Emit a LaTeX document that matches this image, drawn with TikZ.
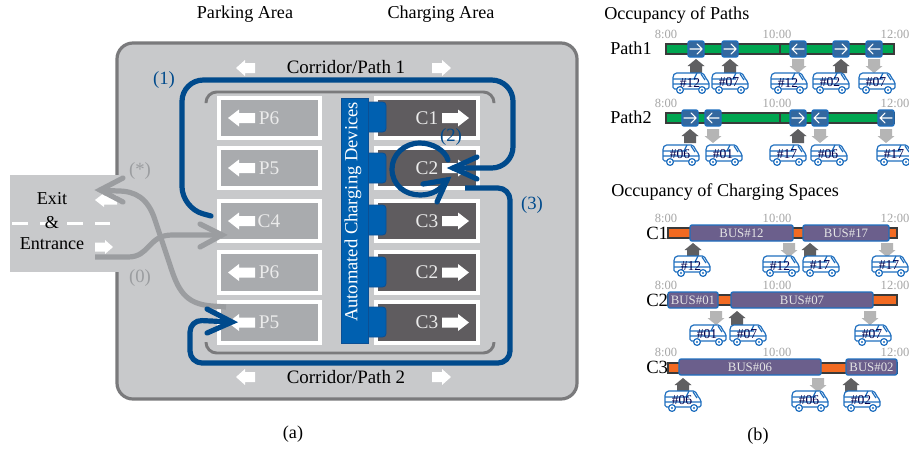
\documentclass[tikz,border=0pt]{standalone}
\usepackage{fontspec}
\setmainfont{Liberation Serif}
\definecolor{parkbg}{HTML}{C8C9CB}
\definecolor{edgegray}{HTML}{7A7A7C}
\definecolor{pfill}{HTML}{A9ABAE}
\definecolor{cfill}{HTML}{5F5C5F}
\definecolor{devblue}{HTML}{0060B0}
\definecolor{devedge}{HTML}{0B4F94}
\definecolor{routeblue}{HTML}{004A8C}
\definecolor{routegray}{HTML}{9B9DA0}
\definecolor{timegray}{HTML}{A5A5A5}
\definecolor{busblue}{HTML}{1F6FBF}
\definecolor{badge}{HTML}{33689F}
\definecolor{slot}{HTML}{6B5F8C}
\definecolor{greenbar}{HTML}{00A651}
\definecolor{orangebar}{HTML}{F26A21}
\definecolor{barline}{HTML}{3A3A3A}
\definecolor{arrdark}{HTML}{5F5F61}
\definecolor{arrlight}{HTML}{B5B5B5}
\tikzset{
  px/.style={font=\fontsize{#1}{#1}\selectfont},
  lbl/.style={px=13.6,text=black,inner sep=0pt},
  time/.style={px=9.4,text=timegray,inner sep=0pt},
  route/.style={draw=routeblue,line width=3.9pt,line cap=round,line join=round},
  chevron/.style={draw=routeblue,line width=3.9pt,line cap=round,line join=miter},
  grayroute/.style={draw=routegray,line width=3.9pt,line join=round},
  rlabel/.style={px=14,inner sep=0pt,text=routeblue},
  glabel/.style={px=14,inner sep=0pt,text=routegray},
  boxlbl/.style={px=14.5,inner sep=0pt,text=white!92!black},
  slotbox/.style={draw=busblue,fill=slot,line width=1pt,rounded corners=1.5pt},
  slottext/.style={px=9.6,inner sep=0pt,text=white!90!black},
  bar/.style={draw=barline,line width=1.1pt},
  bracket/.style={draw=edgegray,line width=2.2pt,rounded corners=8pt},
}
\newcommand{\blockarr}[8]{\fill[#8,shift={(#1,#2)},rotate=#3]
  (0,-#6) -- ({#4-#7},-#6) -- ({#4-#7},-#5) -- (#4,0) -- ({#4-#7},#5) -- ({#4-#7},#6) -- (0,#6) -- cycle;}
\newcommand{\uparr}[2]{\blockarr{#1}{#2}{90}{14}{8.5}{6}{7}{arrdark}}
\newcommand{\dnarr}[2]{\blockarr{#1}{#2}{-90}{14}{8.5}{6}{7}{arrlight}}
\newcommand{\busicon}[3]{
 \begin{scope}[shift={(#1,#2)},draw=busblue,line width=0.9pt,line join=round]
  \draw[fill=white,rounded corners=1.2pt] (-18,-7) -- (-16,-10) -- (12,-10) -- (16,-3) -- (18,-1) -- (18,6) -- (-18,6) -- cycle;
  \draw (-18,-4) -- (6,-4) (-18,1) -- (18,1) (6,-10) -- (3,-4) (10,-9) -- (14,-3);
  \foreach \wx in {-11,11}{\draw[fill=white] (\wx,7) circle[radius=3.4*0.75pt]; \fill[busblue] (\wx,7) circle[radius=1.2*0.75pt];}
  \node[px=10.2,inner sep=0pt,text=black!70!blue] (bus-#3-#1) at (-1,-0.5) {\##3};
 \end{scope}}
\newcommand{\badgeicon}[3]{
 \node[draw=busblue,fill=badge,line width=1pt,rounded corners=1.5pt,minimum size=12pt,inner sep=0pt] (badge-#1-#2) at (#1,#2) {};
 \begin{scope}[shift={(#1,#2)},rotate=#3]
  \draw[white,line width=0.8pt,line cap=round,line join=round] (-6,0) -- (6,0) (1,-5) -- (6,0) -- (1,5);
 \end{scope}}
\begin{document}
\begin{tikzpicture}[x=0.75pt,y=-0.75pt]
\clip (0,0) rectangle (909,451);
\fill[white] (0,0) rectangle (909,451);
% ---------- panel (a)
\node[lbl] (hpark) at (245,14) {Parking Area};
\node[lbl] (hcharge) at (441,14) {Charging Area};
\draw[edgegray,fill=parkbg,line width=2.4pt,rounded corners=12pt] (117,43) rectangle (577,399);
\fill[parkbg] (10,175) rectangle (119,272);
\foreach \a/\b in {12/28,40/54,67/83,95/110}{\fill[white] (\a,221.5) rectangle (\b,225);}
\node[lbl] (exit) at (52,199) {Exit};
\node[lbl] (amp) at (52,223) {\&};
\node[lbl] (entr) at (52,244) {Entrance};
\blockarr{117}{200}{180}{22}{7}{4.5}{9}{white}
\blockarr{95}{247}{0}{18}{7}{4.5}{8}{white}
\node[lbl,px=14.2] (cor1) at (346,67) {Corridor/Path 1};
\node[lbl,px=14.2] (cor2) at (346,377) {Corridor/Path 2};
\blockarr{255}{68}{180}{19}{8}{5}{9}{white}
\blockarr{432}{68}{0}{19}{8}{5}{9}{white}
\blockarr{255}{377}{180}{19}{8}{5}{9}{white}
\blockarr{432}{377}{0}{19}{8}{5}{9}{white}
\draw[bracket] (206,103) -- (206,92) -- (494,92) -- (494,103);
\draw[bracket] (206,342) -- (206,353) -- (494,353) -- (494,342);
\foreach \t/\b/\pl/\cl [count=\i] in {96/140/P6/C1,146/190/P5/C2,199/243/C4/C3,250/295/P6/C2,300/345/P5/C3}{
  \fill[white] (217,\t) rectangle (322,\b);
  \fill[pfill] (221,\t+4) rectangle (318,\b-4);
  \fill[white] (374,\t) rectangle (480,\b);
  \fill[cfill] (378,\t+4) rectangle (476,\b-4);
  \pgfmathsetmacro{\m}{(\t+\b)/2}
  \node[boxlbl] (pl\i) at (269,\m) {\pl};
  \node[boxlbl] (cl\i) at (427,\m) {\cl};
  \blockarr{255}{\m}{180}{27}{8.5}{5}{11}{white}
  \blockarr{442}{\m}{0}{27}{8.5}{5}{11}{white}
}
\foreach \t/\b in {102/132,153/183,205/235,257/287,307/337}{
  \draw[devedge,fill=devblue,line width=0.6pt,rounded corners=2.5pt] (360,\t) rectangle (386,\b);
}
\draw[devedge,fill=devblue,line width=0.6pt] (341,98) rectangle (368,343);
\node[px=13.9,inner sep=0pt,text=white,rotate=90] (acd) at (353,212) {Automated Charging Devices};
% routes
\coordinate (r0a) at (95,257);
\coordinate (r0b) at (222,235);
\draw[grayroute] (r0a) -- (128,257) .. controls (150,257) and (148,235) .. (172,235) -- (r0b);
\draw[grayroute,line cap=round,line join=miter] (200,224) -- (r0b) -- (200,247);
\coordinate (rsa) at (226,307);
\coordinate (rsb) at (100,190);
\draw[grayroute] (rsa) -- (212,306) .. controls (185,304) and (178,290) .. (170,265) -- (155,220) .. controls (148,198) and (135,191) .. (118,191) -- (rsb);
\draw[grayroute,line cap=round,line join=miter] (123,178) -- (rsb) -- (123,202);
\coordinate (r1a) at (211,216);
\coordinate (r1b) at (453,168);
\draw[route,rounded corners=16pt] (r1a) -- (182,208) -- (182,80) -- (513,80) -- (513,168) -- (r1b);
\draw[chevron] (477,157) -- (r1b) -- (477,179);
\coordinate (r2a) at (448,160);
\coordinate (r2b) at (447,180);
\draw[route] (r2a) .. controls (445,150) and (432,143) .. (420,143) .. controls (404,143) and (392,155) .. (392,169) .. controls (392,185) and (405,195) .. (420,195) .. controls (432,195) and (441,190) .. (r2b);
\draw[chevron] (423,184) -- (r2b) -- (437,202);
\coordinate (r3a) at (465,188);
\coordinate (r3b) at (232,322);
\draw[route,line cap=butt,rounded corners=9pt] (r3a) -- (510,188) -- (510,363) -- (190,363) -- (190,320) -- (r3b);
\draw[chevron] (207,309) -- (r3b) -- (207,333);
\node[rlabel] (n1) at (164,80) {(1)};
\node[rlabel] (n2) at (451,137) {(2)};
\node[rlabel] (n3) at (532,205) {(3)};
\node[glabel] (ns) at (140,171) {(*)};
\node[glabel] (n0) at (140,278) {(0)};
\node[lbl] (capa) at (293,434) {(a)};
% ---------- panel (b) paths
\node[lbl,anchor=west] (occ1) at (604,15) {Occupancy of Paths};
\node[lbl,anchor=west] (p1) at (610,48) {Path1};
\node[lbl,anchor=west] (p2) at (610,117) {Path2};
\node[lbl,anchor=west] (occ2) at (611,192) {Occupancy of Charging Spaces};
\foreach \y in {34,103}{
 \node[time] (ta\y) at (666,\y) {8:00};
 \node[time] (tb\y) at (777,\y) {10:00};
 \node[time] (tc\y) at (895,\y) {12:00};
}
\draw[bar,fill=greenbar] (666,44) rectangle (894,54);
\draw[bar] (780,44) -- (780,54);
\draw[bar,fill=greenbar] (666,113) rectangle (894,123);
\draw[bar] (780,113) -- (780,123);
\foreach \x/\a in {696/0,730/0,798/180,841/0,874/180}{\badgeicon{\x}{49}{\a}}
\foreach \x/\a in {690/0,713/180,798/0,820/180,886/180}{\badgeicon{\x}{118}{\a}}
\foreach \x in {696,730,841}{\uparr{\x}{73}}
\foreach \x in {798,874}{\dnarr{\x}{59}}
\foreach \x in {690,798}{\uparr{\x}{143}}
\foreach \x in {713,820,886}{\dnarr{\x}{129}}
\busicon{691}{83}{12}\busicon{730}{83}{07}\busicon{789}{83}{12}\busicon{831}{83}{02}\busicon{877}{83}{07}
\busicon{681}{155}{06}\busicon{724}{155}{01}\busicon{788}{155}{17}\busicon{829}{155}{06}\busicon{895}{155}{17}
% ---------- panel (b) charging spaces
\foreach \n/\y/\ty/\ly in {C1/228/218/233,C2/295/285/300,C3/363/352/367}{
 \node[lbl,anchor=west,px=14] (cn\n) at (646,\ly) {\n};
 \node[time] (sa\n) at (666,\ty) {8:00};
 \node[time] (sb\n) at (777,\ty) {10:00};
 \node[time] (sc\n) at (895,\ty) {12:00};
 \draw[bar,fill=orangebar] (668,\y) rectangle (897,\y+10);
}
\foreach \a/\b/\t/\lab in {690/793/225/12,803/889/225/17,668/718/292/01,731/873/292/07,679/821/359/06,846/897/359/02}{
 \draw[slotbox] (\a,\t) rectangle (\b,\t+16);
 \pgfmathsetmacro{\mx}{(\a+\b)/2}
 \node[slottext] (slot-\lab) at (\mx,\t+8) {BUS\#\lab};
}
\uparr{693}{257}\dnarr{789}{243}\uparr{810}{257}\dnarr{887}{243}
\dnarr{716}{311}\uparr{737}{325}\dnarr{870}{311}
\uparr{683}{392}\dnarr{818}{378}\uparr{851}{392}
\busicon{692}{266}{12}\busicon{781}{266}{12}\busicon{821}{266}{17}\busicon{890}{266}{17}
\busicon{708}{335}{01}\busicon{748}{335}{07}\busicon{873}{335}{07}
\busicon{683}{401}{06}\busicon{810}{401}{06}\busicon{862}{401}{02}
\node[lbl] (capb) at (758,436) {(b)};
\end{tikzpicture}
\end{document}
